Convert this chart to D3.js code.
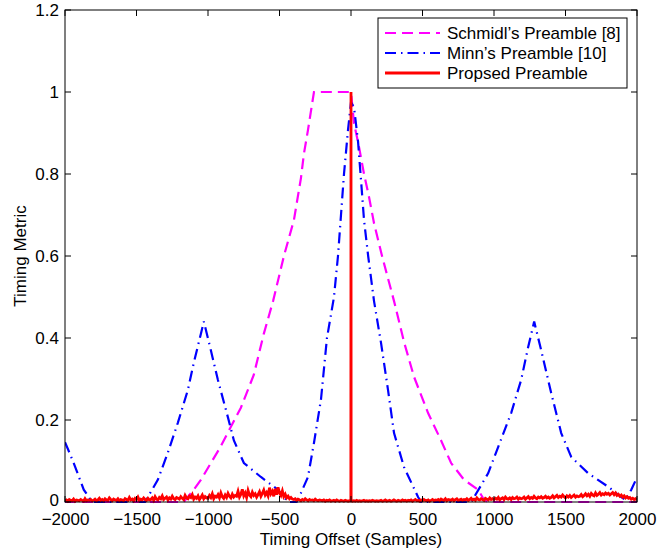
<!DOCTYPE html>
<html>
<head>
<meta charset="utf-8">
<script src="https://cdn.jsdelivr.net/npm/d3@7/dist/d3.min.js"></script>
<style>
  html, body { margin: 0; padding: 0; background: #fff; }
  text { font-family: "Liberation Sans", Arial, Helvetica, sans-serif; fill: #000; }
</style>
</head>
<body>
<svg id="chart" width="657" height="550"></svg>
<script>
// ---------- data ----------
const xTicks = [-2000, -1500, -1000, -500, 0, 500, 1000, 1500, 2000];
const yTicks = [0, 0.2, 0.4, 0.6, 0.8, 1, 1.2];
const seriesNames = ["Schmidl\u2019s Preamble [8]", "Minn\u2019s Preamble [10]", "Propsed Preamble"];

const schmidlX = [-2000, -1170, -1100, -1050, -980, -920, -860, -770, -680, -610, -545, -469, -399, -350, -329, -301, -259, 0, 21, 56, 91, 126, 161, 217, 301, 371, 441, 539, 630, 700, 791, 889, 931, 960, 2000];
const schmidlY = [0, 0, 0.03, 0.054, 0.095, 0.13, 0.17, 0.23, 0.31, 0.41, 0.49, 0.6, 0.688, 0.79, 0.85, 0.907, 1.0, 1.0, 0.924, 0.866, 0.80, 0.744, 0.68, 0.6, 0.49, 0.39, 0.305, 0.217, 0.15, 0.095, 0.054, 0.03, 0.005, 0, 0];

const minnX = [-2000, -1939, -1869, -1820, -1800, -1440, -1421, -1351, -1281, -1211, -1141, -1099, -1050, -1029, -980, -931, -861, -819, -749, -630, -511, -469, -440, -380, -350, -301, -259, -210, -168, -119, -91, -70, -49, -21, 0, 21, 49, 70, 91, 120, 161, 210, 259, 301, 371, 469, 490, 840, 861, 959, 1029, 1120, 1190, 1239, 1281, 1330, 1400, 1470, 1540, 1659, 1799, 1890, 1920, 1960, 2000];
const minnY = [0.146, 0.095, 0.03, 0.005, 0, 0, 0.012, 0.054, 0.12, 0.193, 0.273, 0.34, 0.41, 0.44, 0.37, 0.298, 0.207, 0.15, 0.095, 0.061, 0.03, 0.012, 0, 0, 0.022, 0.061, 0.144, 0.25, 0.4, 0.5, 0.6, 0.7, 0.8, 0.907, 0.975, 0.963, 0.88, 0.785, 0.688, 0.6, 0.49, 0.388, 0.273, 0.168, 0.085, 0.012, 0, 0, 0.012, 0.07, 0.134, 0.217, 0.298, 0.378, 0.44, 0.37, 0.266, 0.168, 0.11, 0.07, 0.037, 0.012, 0.005, 0.03, 0.06];

// proposed preamble: residual metric read every 10 samples from -2000 to 2000
const proposedStep = 10;
const proposedNoise = [
  0.003,0.005,0.002,0.006,0.004,0.003,0.007,0.002,0.005,0.004,0.003,0.006,0.004,0.002,0.008,0.003,0.005,0.004,0.006,0.003,
  0.004,0.007,0.003,0.005,0.009,0.004,0.006,0.003,0.008,0.005,0.004,0.010,0.006,0.003,0.007,0.005,0.004,0.008,0.003,0.006,
  0.005,0.003,0.008,0.006,0.004,0.011,0.005,0.007,0.003,0.009,0.006,0.012,0.004,0.007,0.005,0.010,0.006,0.004,0.009,0.005,
  0.006,0.010,0.004,0.013,0.007,0.005,0.011,0.008,0.015,0.006,0.009,0.012,0.005,0.010,0.007,0.014,0.008,0.006,0.011,0.009,
  0.007,0.013,0.009,0.006,0.016,0.010,0.008,0.014,0.011,0.018,0.007,0.012,0.009,0.015,0.006,0.011,0.017,0.008,0.013,0.010,
  0.009,0.016,0.011,0.020,0.008,0.014,0.012,0.018,0.010,0.022,0.013,0.009,0.017,0.011,0.021,0.014,0.010,0.019,0.012,0.016,
  0.014,0.026,0.012,0.019,0.031,0.015,0.022,0.011,0.028,0.017,0.013,0.024,0.016,0.020,0.012,0.018,0.025,0.014,0.021,0.029,
  0.017,0.023,0.015,0.035,0.020,0.026,0.014,0.032,0.018,0.036,0.022,0.016,0.027,0.013,0.019,0.010,0.014,0.008,0.011,0.007,
  0.006,0.008,0.004,0.007,0.005,0.003,0.006,0.004,0.008,0.005,0.003,0.006,0.004,0.005,0.003,0.007,0.004,0.003,0.005,0.004,
  0.003,0.005,0.002,0.004,0.003,0.005,0.002,0.003,0.004,0.002,0.005,0.003,0.002,0.004,0.003,0.002,0.004,0.003,0.002,0.003,
  0.003,0.002,0.003,0.002,0.004,0.002,0.003,0.002,0.003,0.004,0.002,0.003,0.002,0.003,0.002,0.004,0.003,0.002,0.003,0.002,
  0.003,0.004,0.002,0.003,0.005,0.002,0.003,0.004,0.002,0.003,0.005,0.003,0.002,0.004,0.003,0.002,0.005,0.003,0.004,0.002,
  0.004,0.003,0.005,0.002,0.004,0.006,0.003,0.004,0.002,0.005,0.003,0.006,0.004,0.003,0.005,0.002,0.004,0.006,0.003,0.005,
  0.004,0.006,0.003,0.007,0.005,0.004,0.008,0.003,0.006,0.005,0.004,0.007,0.003,0.006,0.008,0.004,0.005,0.007,0.004,0.006,
  0.005,0.008,0.004,0.006,0.009,0.005,0.007,0.004,0.010,0.006,0.005,0.008,0.006,0.004,0.009,0.007,0.005,0.010,0.006,0.008,
  0.006,0.009,0.007,0.011,0.005,0.008,0.010,0.006,0.012,0.008,0.007,0.010,0.006,0.011,0.008,0.009,0.012,0.007,0.010,0.008,
  0.009,0.012,0.007,0.010,0.013,0.008,0.011,0.009,0.014,0.010,0.008,0.012,0.010,0.013,0.009,0.011,0.014,0.010,0.012,0.009,
  0.011,0.015,0.010,0.013,0.016,0.011,0.014,0.012,0.017,0.013,0.010,0.015,0.012,0.016,0.011,0.014,0.017,0.012,0.015,0.013,
  0.014,0.018,0.013,0.016,0.020,0.015,0.019,0.014,0.021,0.017,0.015,0.022,0.016,0.019,0.023,0.017,0.020,0.018,0.022,0.019,
  0.021,0.017,0.020,0.023,0.018,0.022,0.016,0.019,0.014,0.017,0.012,0.015,0.010,0.013,0.009,0.011,0.007,0.009,0.006,0.008,
  0.005
];
const proposedPeakX = 0;
const proposedPeakY = 1.0;

// ---------- layout ----------
const svg = d3.select("#chart");
const plot = { left: 65, right: 637, top: 10, bottom: 502 };
const x = d3.scaleLinear().domain([-2000, 2000]).range([plot.left, plot.right]);
const y = d3.scaleLinear().domain([0, 1.2]).range([plot.bottom, plot.top]);

const fmt = v => {
  const s = d3.format("")(+v.toFixed(1));
  return s.replace("-", "\u2212");
};

// build series
const schmidl = schmidlX.map((d, i) => [d, schmidlY[i]]);
const minn = minnX.map((d, i) => [d, minnY[i]]);
const proposed = [];
proposedNoise.forEach((v, i) => {
  const xo = -2000 + i * proposedStep;
  if (xo === proposedPeakX) {
    proposed.push([xo - 1, v]);
    proposed.push([proposedPeakX, proposedPeakY]);
    proposed.push([xo + 1, v]);
  } else {
    proposed.push([xo, v]);
  }
});

const line = d3.line().x(d => x(d[0])).y(d => y(d[1]));

svg.append("clipPath").attr("id", "clip")
  .append("rect").attr("x", plot.left).attr("y", plot.top - 2)
  .attr("width", plot.right - plot.left).attr("height", plot.bottom - plot.top + 4);

const g = svg.append("g").attr("clip-path", "url(#clip)");

const styles = [
  { color: "#ff00ff", dash: "11,6", width: 2.2 },
  { color: "#0000ff", dash: "11,5,1.5,5", width: 2.2 },
  { color: "#ff0000", dash: null, width: 2.8 }
];

[schmidl, minn, proposed].forEach((data, i) => {
  g.append("path").datum(data)
    .attr("d", line)
    .attr("fill", "none")
    .attr("stroke", styles[i].color)
    .attr("stroke-width", styles[i].width)
    .attr("stroke-dasharray", styles[i].dash)
    .attr("stroke-linejoin", "miter");
});

// ---------- axes ----------
const tickLen = 6;
const bottomAxis = d3.axisBottom(x).tickValues(xTicks).tickSize(0).tickPadding(0).tickFormat(fmt);
const ax = svg.append("g").attr("transform", `translate(0,${plot.bottom})`).call(bottomAxis);
ax.select(".domain").remove();
ax.selectAll("text").attr("dy", null).attr("y", 23).style("font-size", "17px")
  .style("font-family", '"Liberation Sans", Arial, sans-serif');

const leftAxis = d3.axisLeft(y).tickValues(yTicks).tickSize(0).tickPadding(0).tickFormat(fmt);
const ay = svg.append("g").attr("transform", `translate(${plot.left},0)`).call(leftAxis);
ay.select(".domain").remove();
ay.selectAll("text").attr("x", -6).attr("dy", d => d === 0 ? "0.22em" : "0.32em").style("font-size", "17px")
  .style("font-family", '"Liberation Sans", Arial, sans-serif');

// inward ticks on all four sides
const tg = svg.append("g").attr("stroke", "#000").attr("stroke-width", 1);
xTicks.forEach(t => {
  tg.append("line").attr("x1", x(t)).attr("x2", x(t)).attr("y1", plot.bottom).attr("y2", plot.bottom - tickLen);
  tg.append("line").attr("x1", x(t)).attr("x2", x(t)).attr("y1", plot.top).attr("y2", plot.top + tickLen);
});
yTicks.forEach(t => {
  tg.append("line").attr("x1", plot.left).attr("x2", plot.left + tickLen).attr("y1", y(t)).attr("y2", y(t));
  tg.append("line").attr("x1", plot.right).attr("x2", plot.right - tickLen).attr("y1", y(t)).attr("y2", y(t));
});

// frame
svg.append("rect")
  .attr("x", plot.left).attr("y", plot.top)
  .attr("width", plot.right - plot.left).attr("height", plot.bottom - plot.top)
  .attr("fill", "none").attr("stroke", "#000").attr("stroke-width", 1);

// axis labels
svg.append("text").attr("x", (plot.left + plot.right) / 2).attr("y", 545)
  .attr("text-anchor", "middle").style("font-size", "17px").text("Timing Offset (Samples)");
svg.append("text").attr("transform", `translate(26,${(plot.top + plot.bottom) / 2}) rotate(-90)`)
  .attr("text-anchor", "middle").style("font-size", "17px").text("Timing Metric");

// ---------- legend ----------
const lg = svg.append("g");
lg.append("rect").attr("x", 378).attr("y", 18).attr("width", 249).attr("height", 70)
  .attr("fill", "#fff").attr("stroke", "#000").attr("stroke-width", 1);
seriesNames.forEach((name, i) => {
  const cy = 33 + i * 20;
  lg.append("line").attr("x1", 385).attr("x2", 440).attr("y1", cy).attr("y2", cy)
    .attr("stroke", styles[i].color).attr("stroke-width", styles[i].width)
    .attr("stroke-dasharray", styles[i].dash);
  lg.append("text").attr("x", 447).attr("y", cy).attr("dy", "0.35em")
    .style("font-size", "17px").text(name);
});
</script>
</body>
</html>
